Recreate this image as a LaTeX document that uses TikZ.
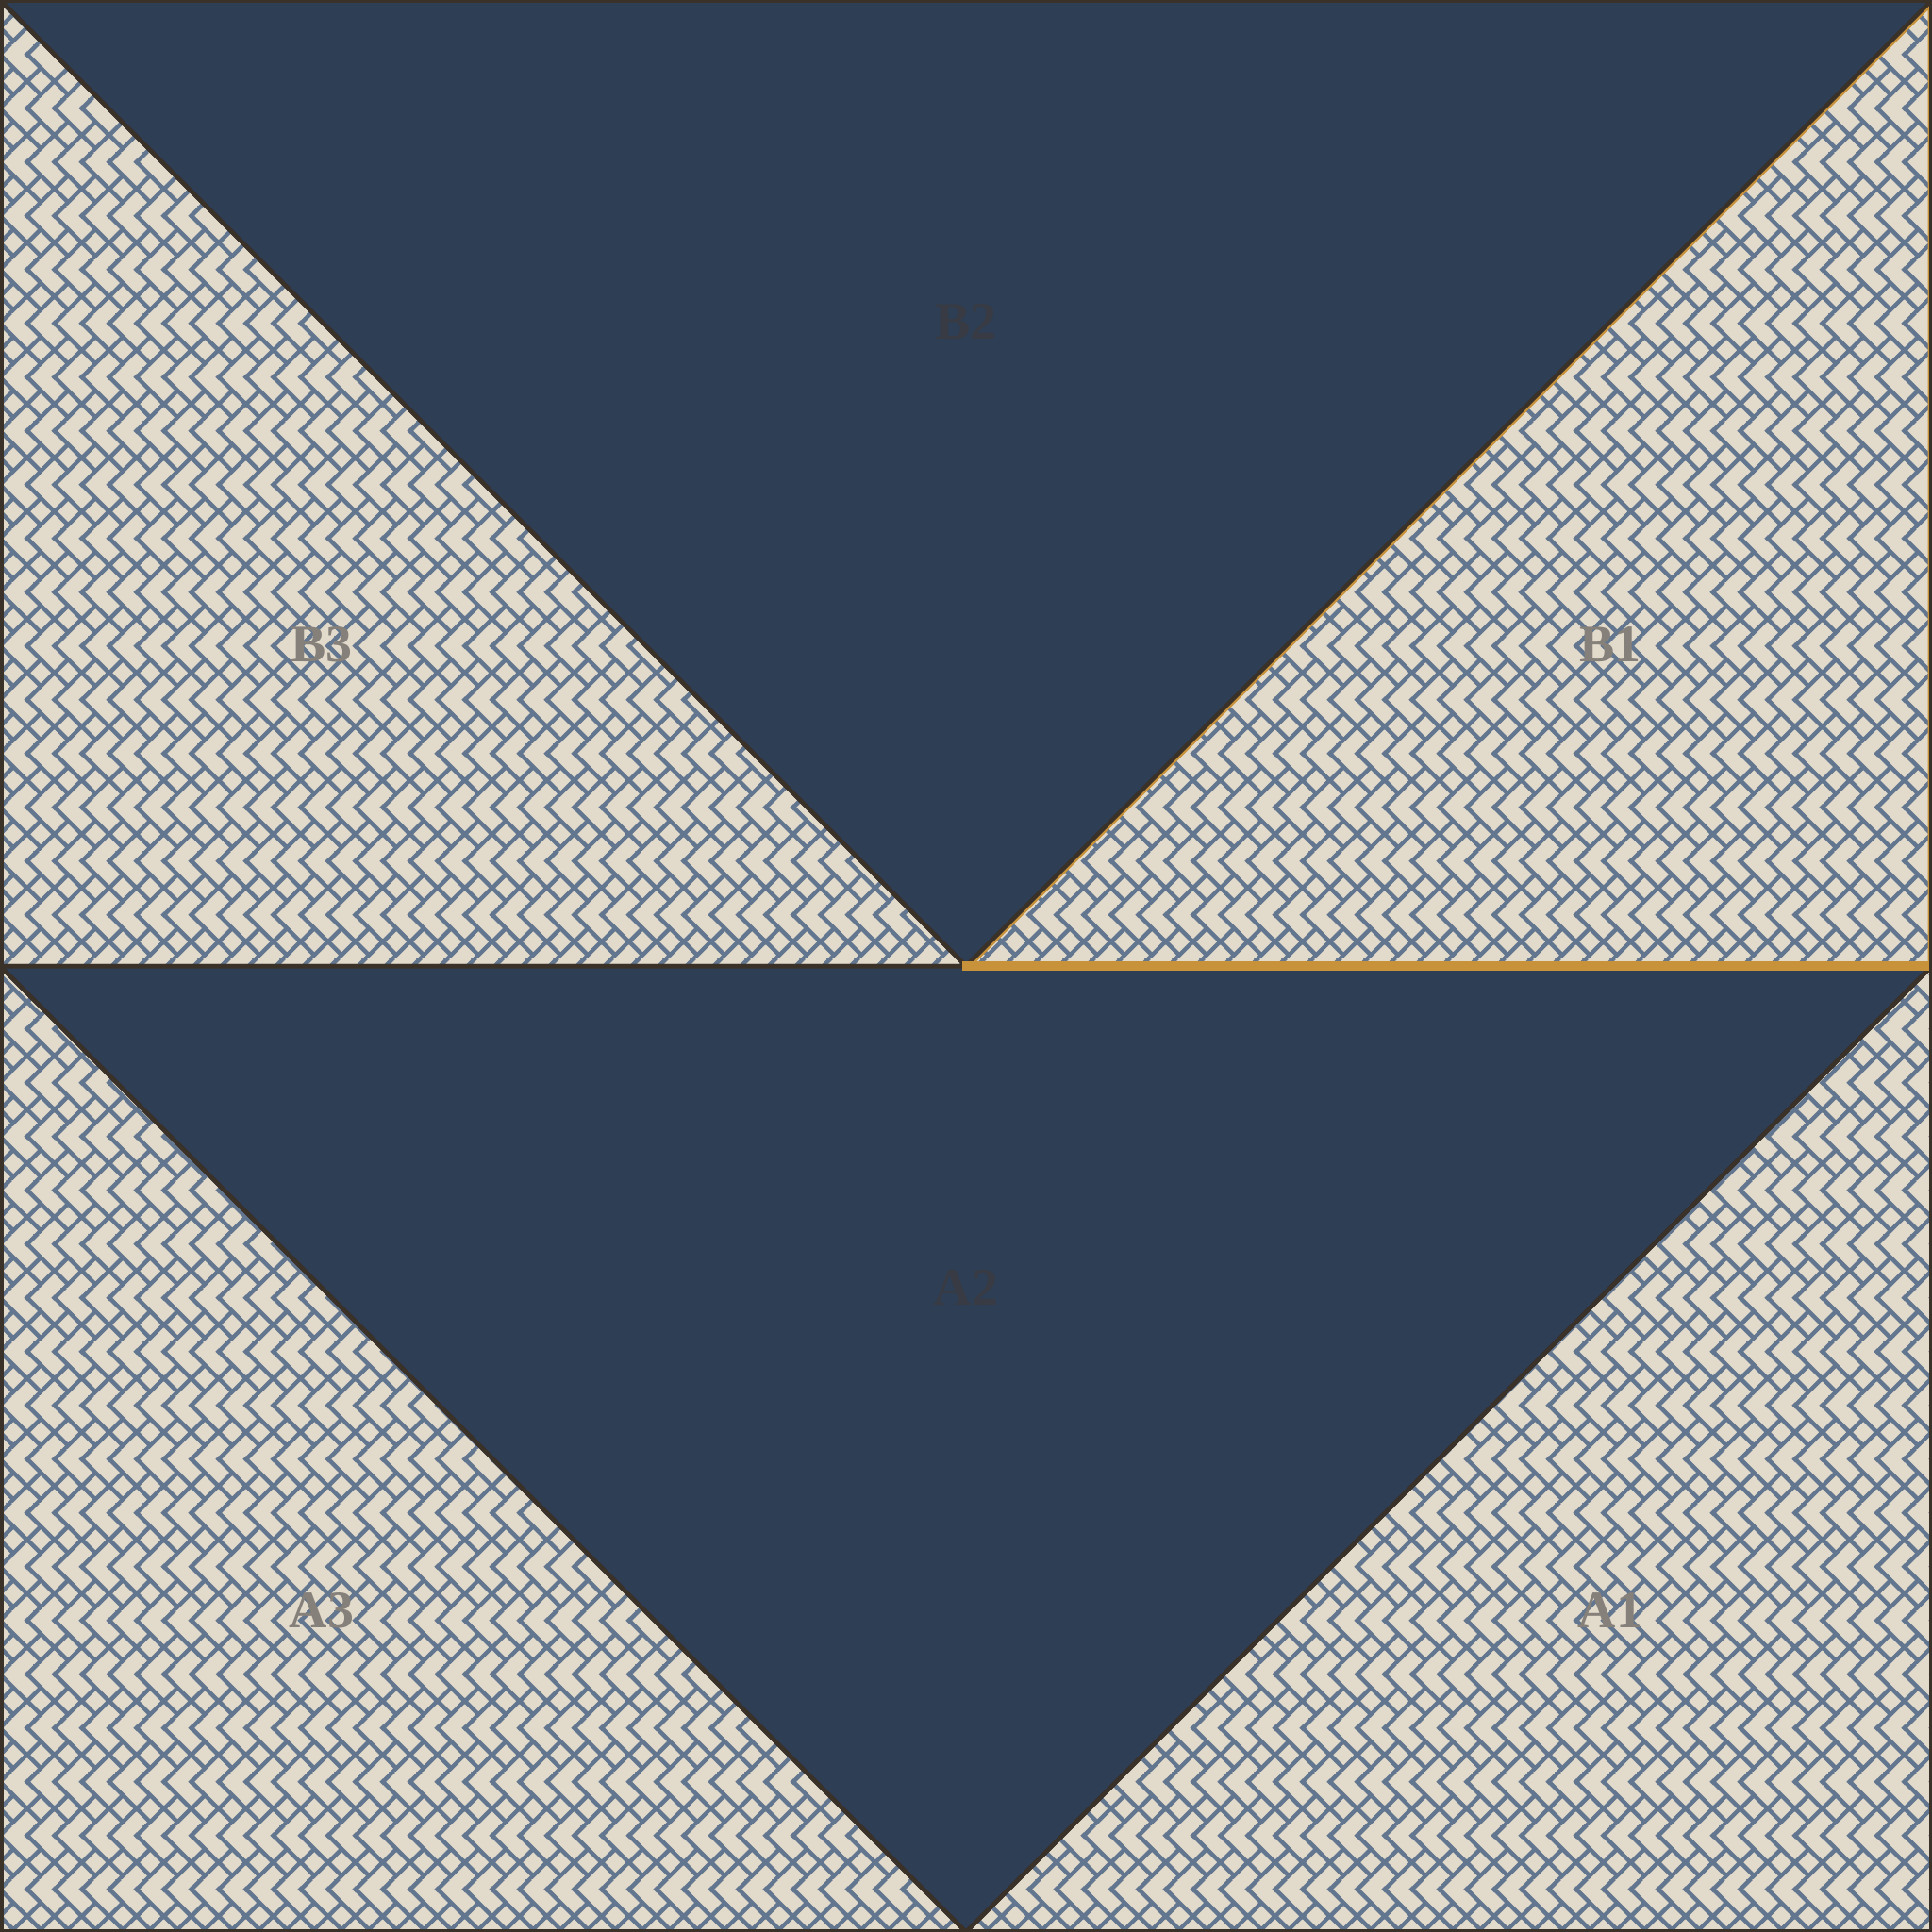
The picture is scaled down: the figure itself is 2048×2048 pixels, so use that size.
\documentclass[tikz,border=0pt]{standalone}
\usepackage{fontspec}
\setmainfont{Liberation Serif}
\usetikzlibrary{patterns}

\definecolor{cream}{HTML}{E2DACA}
\definecolor{weave}{HTML}{62768F}
\definecolor{navy}{HTML}{2D3E55}
\definecolor{edgec}{HTML}{3A3128}
\definecolor{gold}{HTML}{C8923A}
\definecolor{labdark}{HTML}{383B43}
\definecolor{lablight}{HTML}{85807A}

\newcommand\hchev[2]{%
  \pgfpathmoveto{\pgfpoint{#1pt-4.083pt}{#2pt}}%
  \pgfpathlineto{\pgfpoint{#1pt}{#2pt+4.083pt}}%
  \pgfpathlineto{\pgfpoint{#1pt+4.083pt}{#2pt+8.166pt}}%
  \pgfpathlineto{\pgfpoint{#1pt+8.166pt}{#2pt+4.083pt}}%
  \pgfpathlineto{\pgfpoint{#1pt+4.083pt}{#2pt}}%
  \pgfpathlineto{\pgfpoint{#1pt+8.166pt}{#2pt-4.083pt}}%
  \pgfpathlineto{\pgfpoint{#1pt+4.083pt}{#2pt-8.166pt}}%
  \pgfpathlineto{\pgfpoint{#1pt}{#2pt-4.083pt}}%
  \pgfpathclose}

\pgfdeclarepatternformonly{herring}{\pgfqpoint{0pt}{0pt}}{\pgfqpoint{8.166pt}{16.332pt}}{\pgfqpoint{8.166pt}{16.332pt}}{%
  \pgfsetlinewidth{1.25pt}%
  \hchev{-4.083}{-3.046}\hchev{4.083}{-3.046}\hchev{12.249}{-3.046}%
  \hchev{-4.083}{13.286}\hchev{4.083}{13.286}\hchev{12.249}{13.286}%
  \hchev{-4.083}{29.618}\hchev{4.083}{29.618}\hchev{12.249}{29.618}%
  \pgfusepath{stroke}}

\tikzset{
  cloth/.style={fill=cream, postaction={pattern=herring, pattern color=weave}},
  darkcloth/.style={fill=navy},
  seam/.style={draw=edgec, line width=0.45mm, line join=miter},
  lab/.style={font=\fontsize{15.9pt}{18pt}\selectfont\bfseries, inner sep=0pt},
}

\begin{document}
\begin{tikzpicture}[x=0.1mm, y=-0.1mm]
\useasboundingbox (0,0) rectangle (2048,2048);

% fills
\path[darkcloth] (0,0) -- (2048,0) -- (1024,1024) -- cycle;          % B2
\path[cloth] (0,0) -- (1024,1024) -- (0,1024) -- cycle;              % B3
\path[cloth] (2048,0) -- (2048,1024) -- (1024,1024) -- cycle;        % B1
\path[darkcloth] (0,1024) -- (2048,1024) -- (1024,2048) -- cycle;    % A2
\path[cloth] (0,1024) -- (1024,2048) -- (0,2048) -- cycle;           % A3
\path[cloth] (2048,1024) -- (2048,2048) -- (1024,2048) -- cycle;     % A1

% highlighted piece B1 (inner stroke)
\begin{scope}
  \clip (2048,0) -- (2048,1024) -- (1024,1024) -- cycle;
  \draw[gold, line width=0.9mm] (2048,0) -- (2048,1024) -- (1024,1024) -- cycle;
\end{scope}

% seams
\draw[seam] (0,0) -- (2048,0) -- (1024,1024) -- cycle;
\draw[seam] (0,0) -- (1024,1024) -- (0,1024) -- cycle;
\draw[seam] (0,1024) -- (2048,1024) -- (1024,2048) -- cycle;
\draw[seam] (0,1024) -- (1024,2048) -- (0,2048) -- cycle;
\draw[seam] (2048,1024) -- (2048,2048) -- (1024,2048) -- cycle;

% highlighted bottom edge of B1
\draw[gold, line width=1.0mm] (1020,1024) -- (2048,1024);

% outer border
\draw[edgec, line width=0.7mm] (0,0) rectangle (2048,2048);

% labels
\node[lab, text=labdark] (b2) at (1024,341) {B2};
\node[lab, text=lablight] (b3) at (341,683) {B3};
\node[lab, text=lablight] (b1) at (1707,683) {B1};
\node[lab, text=labdark] (a2) at (1024,1365) {A2};
\node[lab, text=lablight] (a3) at (341,1707) {A3};
\node[lab, text=lablight] (a1) at (1707,1707) {A1};
\end{tikzpicture}
\end{document}
